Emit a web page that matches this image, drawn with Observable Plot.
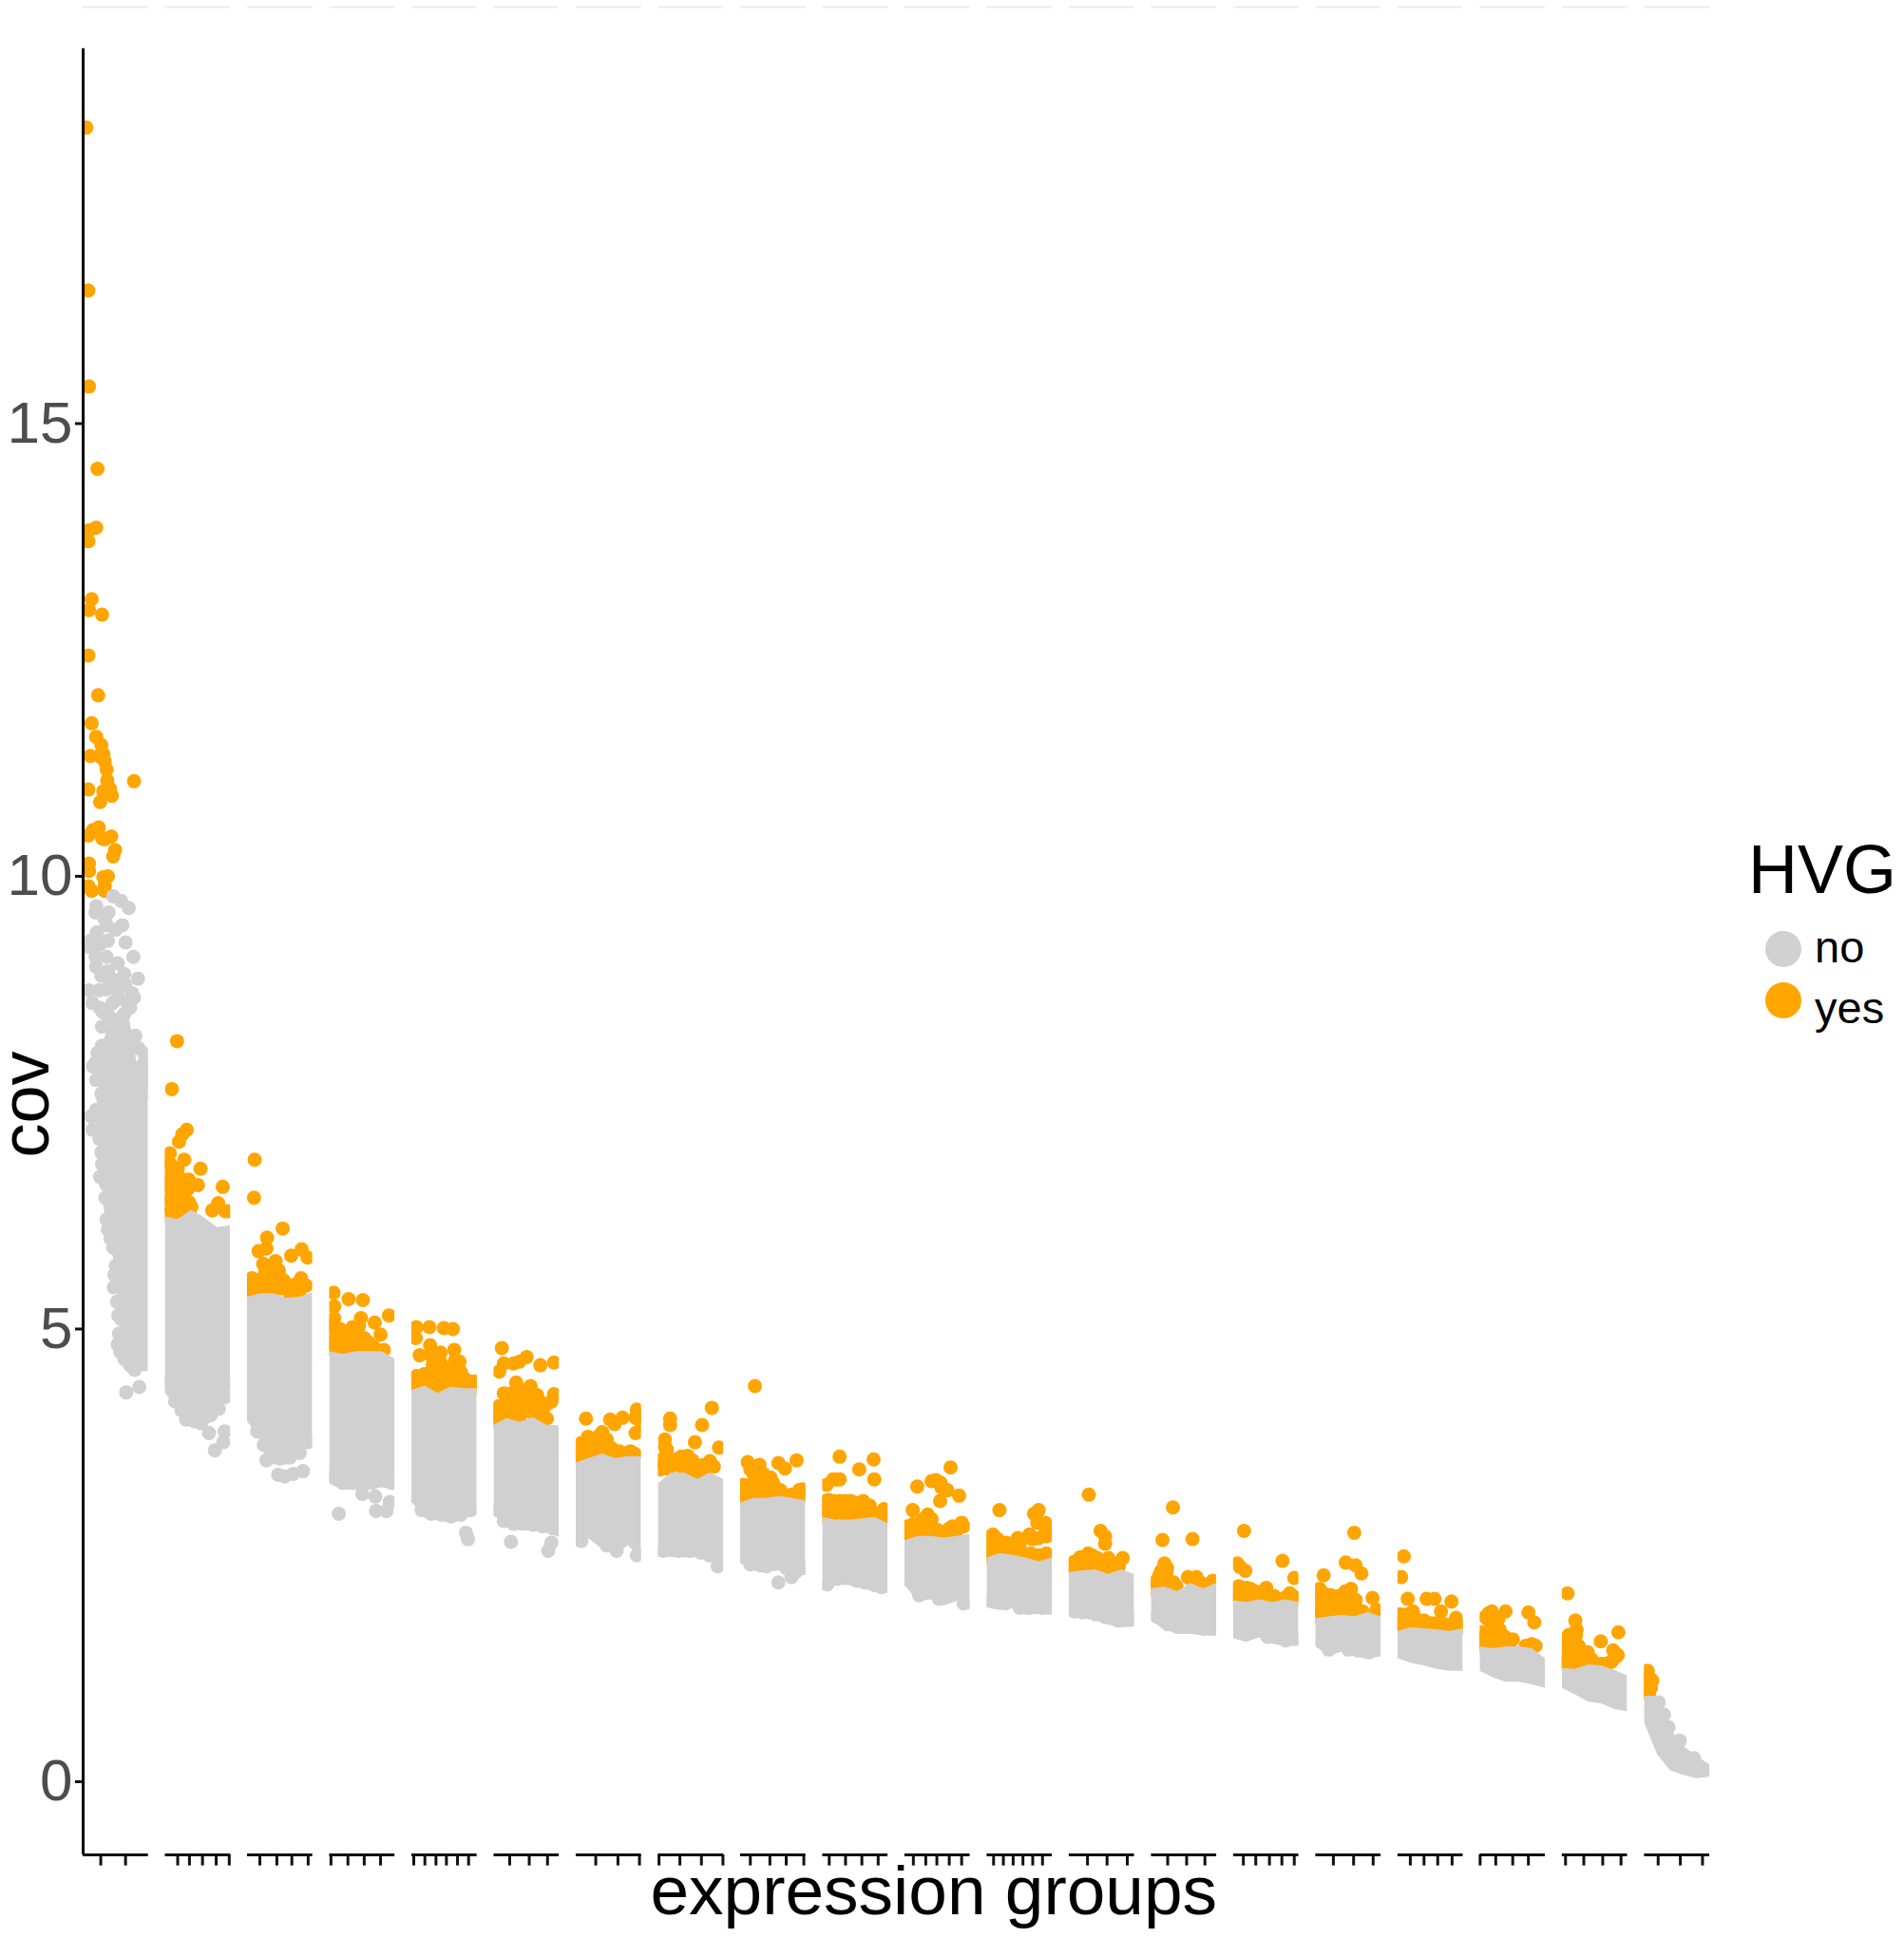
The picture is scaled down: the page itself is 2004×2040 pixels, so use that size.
<!DOCTYPE html>
<html>
<head>
<meta charset="utf-8">
<script src="https://cdn.jsdelivr.net/npm/d3@7"></script>
<script src="https://cdn.jsdelivr.net/npm/@observablehq/plot@0.6"></script>
<style>
html,body{margin:0;padding:0;background:#fff}
#chart{position:relative;width:2004px;height:2040px;overflow:hidden}
#legend{position:absolute;left:0;top:0}
</style>
</head>
<body>
<div id="chart"></div>
<script>
// x is a position 0-100 inside each expression group's panel, v is cov.
const groups = d3.range(20);
const yTicks = [0, 5, 10, 15];
const xTicks = [
  [27,65],[19,37,57,78,98],[19,45,68,93],[2,28,53,78],[3,20,37,53,70,87],[24,54,82],[30,64,97],
  [1,33,66,99],[15,45,70,97],[10,35,60,85],[13,32,49,68,87],[10,25,40,55,70,85],[28,58,89],
  [25,54,82],[15,34,55,74,93],[27,58,88],[19,40,61,83],[0,24,50,74],[5,33,62,90],[21,55,89]
];

// HVG = yes: separately visible points
const yes00 = [[5,18.27],[8,16.47],[9,15.41],[22,14.5],[20,13.85],[9,13.82],[8,13.7],[13,13.06],[9,12.94],[29,12.89],[8,12.44],[23,12],[13,11.69],[20,11.54],[28,11.45],[11,11.33],[24,11.33],[31,11.35],[33,11.27],[36,11.18],[37,11.06],[78,11.05],[8,10.96],[31,10.94],[41,10.97],[44,10.89],[26,10.82],[24,10.54],[15,10.51],[8,10.45],[29,10.42],[33,10.41],[43,10.44],[49,10.29],[46,10.22],[9,10.14],[9,10.06],[38,10],[31,9.99],[33,9.9],[8,9.89],[13,9.84],[33,9.84]];
const yes01 = [[18,8.18],[10,7.65],[33,7.2],[26,7.15],[21,7.07],[7,6.94],[8,6.82],[29,6.87],[54,6.77],[19,6.77],[9,6.61],[24,6.66],[36,6.65],[50,6.59],[88,6.57],[14,6.52],[29,6.49],[9,6.42],[24,6.42],[36,6.4],[81,6.39],[72,6.31],[92,6.3],[9,6.31],[21,6.3],[31,6.33],[98,6.3],[19,6.26]];
const yes02 = [[11,6.87],[10,6.45],[54,6.11],[30,6.01],[17,5.86],[29,5.89],[67,5.81],[83,5.88],[92,5.79],[43,5.75],[24,5.72],[33,5.69],[43,5.61],[7,5.56],[19,5.54],[82,5.56],[55,5.54],[43,5.51],[9,5.44],[29,5.47],[72,5.49],[84,5.51],[65,5.39],[9,5.39],[21,5.42],[80,5.42]];
const yes03 = [[6,5.4],[29,5.33],[51,5.32],[7,5.25],[91,5.15],[48,5.12],[7,5.12],[69,5.07],[10,5.02],[78,4.94],[29,4.97],[39,4.97],[53,4.9],[10,4.9],[24,4.9],[36,4.85],[12,4.79],[22,4.77],[61,4.79],[83,4.77],[46,4.81]];
const yes04 = [[7,5.02],[27,5.02],[49,5.01],[63,5],[6,4.9],[28,4.82],[65,4.77],[12,4.71],[44,4.74],[29,4.71],[73,4.64],[44,4.63],[32,4.6],[63,4.57],[7,4.48],[75,4.53],[19,4.5],[36,4.5],[53,4.48],[80,4.46],[92,4.42],[9,4.41],[36,4.34],[22,4.41],[58,4.41],[70,4.41]];
const yes05 = [[12,4.79],[50,4.69],[39,4.64],[30,4.62],[15,4.62],[8,4.53],[71,4.6],[92,4.63],[34,4.41],[56,4.37],[15,4.29],[92,4.28],[27,4.29],[66,4.27],[42,4.22],[81,4.17],[54,4.22],[8,4.15],[22,4.15],[34,4.13],[66,4.13],[8,4.01],[39,4.01],[81,4.01],[20,4.04],[56,4.09]];
const yes06 = [[15,4.01],[52,4],[71,4.02],[93,4.11],[91,4.02],[59,3.95],[91,3.85],[40,3.86],[18,3.81],[8,3.74],[28,3.76],[45,3.76],[11,3.64],[25,3.64],[47,3.67],[6,3.59],[66,3.65],[83,3.65],[20,3.6],[61,3.6],[42,3.62]];
const yes07 = [[82,4.13],[18,4.01],[18,3.94],[67,3.94],[10,3.78],[56,3.75],[93,3.69],[13,3.67],[45,3.6],[35,3.59],[11,3.55],[79,3.54],[8,3.5],[33,3.5],[47,3.5],[64,3.48],[74,3.48],[25,3.5],[45,3.36],[64,3.36]];
const yes08 = [[22,4.37],[11,3.53],[29,3.5],[58,3.52],[86,3.55],[68,3.46],[17,3.45],[22,3.36],[46,3.36],[10,3.27],[36,3.24],[51,3.24],[61,3.22],[90,3.22],[10,3.15],[24,3.18],[78,3.17],[12,3.1],[39,3.18]];
const yes09 = [[26,3.59],[78,3.56],[56,3.45],[79,3.34],[26,3.34],[16,3.34],[6,3.28],[9,3.11],[26,3.1],[43,3.1],[62,3.1],[9,3.01],[35,3.01],[69,3.01],[94,3.01],[40,2.92],[11,2.9],[94,2.92],[65,2.94],[26,2.99],[55,2.99]];
const yes10 = [[70,3.47],[19,3.26],[41,3.32],[55,3.3],[65,3.22],[83,3.16],[54,3.1],[12,3],[33,2.9],[87,2.86],[67,2.79],[9,2.82],[24,2.85],[21,2.75],[46,2.76],[80,2.78],[7,2.73],[36,2.8]];
const yes11 = [[19,3],[79,3],[72,2.96],[89,2.86],[77,2.86],[9,2.73],[91,2.71],[79,2.69],[70,2.68],[47,2.69],[16,2.68],[30,2.64],[6,2.61],[43,2.61],[4,2.52],[18,2.57],[67,2.52],[91,2.52],[74,2.48],[47,2.54]];
const yes12 = [[30,3.17],[48,2.77],[55,2.71],[55,2.63],[82,2.47],[29,2.52],[17,2.48],[8,2.43],[7,2.36],[26,2.43],[43,2.47],[60,2.47],[29,2.35],[56,2.32],[72,2.41],[41,2.41]];
const yes13 = [[33,3.03],[17,2.67],[63,2.68],[20,2.41],[15,2.33],[8,2.2],[23,2.31],[25,2.22],[56,2.26],[69,2.26],[64,2.2],[38,2.16],[94,2.22],[15,2.2]];
const yes14 = [[16,2.77],[75,2.44],[6,2.41],[18,2.33],[93,2.25],[8,2.16],[50,2.14],[20,2.14],[33,2.1],[91,2.05],[6,2.05],[54,2.05],[18,2.07],[71,2.01]];
const yes15 = [[12,2.28],[46,2.42],[61,2.39],[70,2.3],[59,2.75],[87,2.03],[6,2.13],[23,2.06],[8,2.03],[8,1.92],[54,2.13],[45,2.1],[61,2.01],[32,1.99],[20,1.98],[47,1.99],[66,1.89],[93,1.9],[8,1.87],[42,1.91]];
const yes16 = [[9,2.49],[5,2.26],[15,2.02],[44,2.02],[56,2.02],[82,1.99],[66,1.88],[23,1.88],[89,1.81],[6,1.79],[21,1.79],[33,1.75],[50,1.75],[65,1.73],[82,1.73],[89,1.68],[6,1.71]];
const yes17 = [[39,1.88],[74,1.87],[83,1.76],[13,1.86],[11,1.8],[26,1.78],[9,1.63],[26,1.63],[50,1.57],[9,1.54],[26,1.49],[35,1.56],[79,1.52],[70,1.5],[16,1.54]];
const yes18 = [[8,2.08],[20,1.78],[21,1.62],[59,1.55],[86,1.65],[8,1.54],[85,1.4],[17,1.49],[39,1.43],[27,1.42],[5,1.33],[30,1.35],[71,1.31],[59,1.3],[37,1.37],[76,1.33]];
const yes19 = [[5,1.225],[8,1.14],[8,1.03],[10,1.04],[5,0.98]];
const yesAll = [yes00,yes01,yes02,yes03,yes04,yes05,yes06,yes07,yes08,yes09,yes10,yes11,yes12,yes13,yes14,yes15,yes16,yes17,yes18,yes19];

// HVG = yes: points inside the solid orange clusters
const yesDense = [
  [],
  [[3,6.85],[3,6.72],[3,6.6],[15,6.62],[25,6.55],[35,6.55],[3,6.5],[18,6.45],[30,6.42],[40,6.35],[3,6.38],[14,6.35],[26,6.33],[37,6.27],[3,6.25],[13,6.22]],
  [[3,5.5],[3,5.42],[15,5.5],[15,5.42],[27,5.55],[36,5.5],[38,5.42],[50,5.45],[62,5.47],[75,5.42],[90,5.48],[36,5.7],[48,5.65],[27,5.62]],
  [[4,5.05],[4,4.97],[4,4.85],[4,4.78],[16,5],[16,4.88],[16,4.8],[30,4.88],[30,4.78],[40,4.9],[40,4.8],[50,4.85],[52,4.78],[60,4.85],[68,4.8],[72,4.75],[35,5.02],[45,5.03]],
  [[3,4.45],[3,4.37],[14,4.45],[14,4.37],[28,4.45],[28,4.37],[45,4.42],[45,4.35],[62,4.47],[70,4.48],[78,4.4],[88,4.4],[98,4.42],[98,4.35],[85,4.4],[55,4.55],[38,4.6],[42,4.68],[35,4.66],[70,4.55],[66,4.65],[30,4.52]],
  [[3,4.12],[3,4.03],[3,3.98],[14,4.1],[14,4],[26,4.08],[30,4.2],[26,3.98],[40,4.12],[48,4.1],[48,4.2],[62,4.2],[70,4.2],[76,4.13],[62,4.05],[74,4.05],[45,4.32],[34,4.33],[88,4.2]],
  [[3,3.7],[3,3.62],[3,3.55],[14,3.74],[14,3.62],[14,3.55],[25,3.72],[33,3.7],[35,3.62],[52,3.62],[55,3.68],[72,3.62],[90,3.62],[47,3.78],[35,3.82],[100,3.95],[97,4.05]],
  [[3,3.55],[3,3.45],[14,3.46],[20,3.5],[28,3.56],[38,3.45],[52,3.55],[55,3.45],[70,3.5],[85,3.48],[12,3.62],[10,3.7],[40,3.55],[58,3.5],[45,3.42]],
  [[15,3.45],[20,3.4],[30,3.42],[35,3.4],[45,3.3],[30,3.3],[3,3.2],[3,3.28],[3,3.12],[12,3.2],[20,3.15],[25,3.28],[50,3.3],[42,3.18],[60,3.17],[70,3.13],[85,3.14],[95,3.15],[95,3.23],[28,3.13]],
  [[4,3.1],[4,3],[4,2.92],[16,3.1],[16,3],[16,2.93],[26,3.05],[34,3.1],[34,2.95],[45,3],[50,3.08],[54,2.92],[62,3],[72,3.05],[78,2.97],[85,2.95],[97,3],[97,2.9],[87,2.92],[20,3.34]],
  [[4,2.82],[4,2.75],[14,2.85],[14,2.75],[28,2.85],[30,2.77],[38,2.88],[38,2.75],[50,2.78],[52,2.72],[73,2.82],[90,2.82],[28,2.9],[35,2.95],[41,2.9],[56,3.25],[48,3.33],[75,2.75],[60,2.74]],
  [[4,2.7],[3,2.6],[15,2.62],[22,2.64],[30,2.58],[35,2.6],[40,2.62],[50,2.62],[45,2.58],[54,2.52],[60,2.5],[78,2.5],[85,2.5],[98,2.5],[3,2.47],[12,2.52],[24,2.55],[35,2.54],[62,2.7],[90,2.78],[65,2.73]],
  [[3,2.4],[3,2.33],[14,2.36],[20,2.4],[26,2.33],[35,2.42],[38,2.36],[50,2.42],[46,2.37],[60,2.37],[68,2.38],[76,2.38],[12,2.44],[35,2.5]],
  [[3,2.2],[3,2.13],[12,2.28],[12,2.16],[20,2.25],[27,2.15],[24,2.36],[30,2.2],[20,2.15],[34,2.2],[98,2.2],[75,2.2],[80,2.18]],
  [[3,2.1],[12,2.12],[26,2.13],[3,2],[20,2.04],[30,2.03],[42,2.05],[44,2.1],[62,2.05],[50,2.08],[78,2.03],[98,2.02],[86,2.08],[10,2.37]],
  [[3,2.1],[3,2],[3,1.9],[3,1.82],[13,2],[13,1.9],[25,1.95],[25,1.87],[35,2.05],[32,1.9],[40,2.02],[52,2.05],[55,1.98],[55,1.9],[62,1.92],[45,1.87],[95,1.85],[72,1.88],[15,2.07]],
  [[3,1.85],[3,1.72],[12,1.75],[15,1.85],[25,1.82],[28,1.74],[40,1.78],[58,1.75],[72,1.74],[75,1.7],[90,1.75],[95,1.7],[45,1.72],[60,1.72]],
  [[3,1.65],[3,1.55],[3,1.5],[15,1.66],[20,1.7],[25,1.55],[20,1.5],[30,1.68],[30,1.5],[38,1.6],[45,1.53],[8,1.82],[18,1.88],[28,1.8],[75,1.49],[85,1.5]],
  [[3,1.42],[3,1.3],[14,1.55],[14,1.38],[14,1.29],[25,1.5],[25,1.3],[33,1.42],[35,1.3],[45,1.35],[22,1.68],[20,1.42],[65,1.3],[82,1.38],[78,1.45],[10,1.62],[6,1.28]],
  [[3,1.2],[3,1.1],[3,1],[7,0.97],[12,1.12]]
];

// HVG = no: the dense body of each group, its upper and lower edge read across the panel
const bodyX = [0, 20, 40, 60, 80, 100];
const bodyTop = [
  null,
  [6.24,6.21,6.31,6.23,6.12,6.14],[5.35,5.39,5.39,5.34,5.35,5.4],[4.75,4.72,4.75,4.75,4.75,4.67],
  [4.32,4.37,4.29,4.36,4.34,4.34],[3.94,4.01,3.97,4.02,3.94,3.93],[3.52,3.57,3.62,3.57,3.59,3.59],
  [3.29,3.41,3.41,3.34,3.41,3.34],[3.08,3.13,3.13,3.15,3.13,3.1],[2.92,2.89,2.89,2.9,2.92,2.85],
  [2.66,2.71,2.71,2.69,2.71,2.73],[2.47,2.52,2.5,2.47,2.43,2.47],[2.31,2.33,2.34,2.29,2.34,2.29],
  [2.13,2.15,2.1,2.19,2.13,2.19],[2,1.98,2.01,1.98,2.01,1.98],[1.8,1.82,1.84,1.82,1.87,1.82],
  [1.66,1.7,1.69,1.68,1.66,1.69],[1.49,1.47,1.49,1.49,1.47,1.36],[1.25,1.24,1.29,1.28,1.23,1.17],
  [0.945,0.945,0.58,0.39,0.28,0.19]
];
const bodyBottom = [
  null,
  [4.29,4.11,3.94,3.9,4.04,4.32],[3.98,3.77,3.5,3.5,3.57,3.77],[3.29,3.22,3.22,3.22,3.25,3.22],
  [3.09,2.91,2.88,2.86,2.88,2.99],[2.95,2.81,2.77,2.77,2.75,2.7],[2.59,2.68,2.57,2.5,2.61,2.45],
  [2.48,2.48,2.47,2.48,2.45,2.38],[2.41,2.33,2.31,2.33,2.22,2.29],[2.1,2.17,2.17,2.13,2.1,2.08],
  [2.17,1.99,2.01,1.94,1.99,1.89],[1.92,1.89,1.91,1.84,1.85,1.84],[1.82,1.8,1.78,1.73,1.7,1.71],
  [1.77,1.68,1.63,1.63,1.61,1.61],[1.58,1.54,1.59,1.52,1.49,1.5],[1.49,1.39,1.43,1.38,1.35,1.38],
  [1.36,1.31,1.28,1.24,1.22,1.22],[1.22,1.15,1.1,1.1,1.07,1.03],[1.03,0.96,0.88,0.86,0.8,0.77],
  [0.65,0.3,0.12,0.07,0.035,0.05]
];
const firstBodyX = [31,38,50,58,70,82,92,100];
const firstBodyTop = [8.17,8.31,8.48,8.52,8.48,7.96,7.89,7.78];
const firstBodyBottom = [6.39,6.03,5.69,4.81,4.57,4.53,4.53,4.53];

// HVG = no: individually visible points
const no00 = [[46,9.78],[58,9.73],[70,9.65],[20,9.67],[19,9.6],[39,9.6],[33,9.53],[60,9.46],[36,9.46],[50,9.41],[21,9.38],[65,9.27],[12,9.29],[38,9.29],[26,9.25],[9,9.22],[19,9.11],[77,9.11],[36,9.11],[53,9.04],[38,8.95],[84,8.87],[63,8.92],[24,8.74],[9,8.74],[14,8.6],[75,8.71],[78,8.66],[53,8.73],[48,8.62],[36,8.52],[63,8.48],[29,8.34],[80,8.24],[94,8.04],[29,8.13],[19,7.94],[26,7.83],[89,7.83],[36,7.68],[89,7.57],[31,7.54],[33,7.43],[21,7.35],[26,7.21],[41,7.08],[33,7.01],[29,6.82],[26,6.68],[36,6.21],[46,5.9],[50,5.47],[47,5.46],[58,5.11],[53,4.83],[63,4.67],[79,4.55],[66,4.3],[86,4.36],
  [20,9],[28,8.9],[42,8.85],[50,8.85],[35,8.75],[65,8.8],[45,8.6],[25,8.55],[40,8.45],[30,8.5],[72,8.55],[66,8.62],[22,8.05],[15,7.9],[30,8],[20,7.75],[28,7.6],[38,7.9],[25,7.1],[33,7.25],[20,7.42],[28,6.95],[35,6.6],[36,6.75],[34,6.45],[38,6.1],[42,6],[50,5.7],[48,5.6],[52,5.3],[54,5.15],[60,4.95],[55,4.95],[70,4.7],[72,4.6],[57,4.75],[85,8.1],[100,7.85],[94,7.95],[100,7.7],[12,7.35],[14,7.2]];
const no01 = [[67,3.85],[91,3.87],[89,3.75],[76,3.66],[4,4.4],[15,4.2],[25,4.1],[32,4],[45,3.98],[55,3.96],[70,4.05],[82,4.12],[92,4.25],[100,4.4]];
const no02 = [[29,3.55],[57,3.37],[70,3.4],[85,3.43],[47,3.39],[5,4.05],[15,3.87],[25,3.72],[35,3.6],[50,3.57],[65,3.58],[80,3.63],[92,3.75]];
const no03 = [[14,2.96],[70,3.15],[71,2.99],[92,3.09],[87,2.99],[50,3.18],[5,3.37],[20,3.3],[35,3.3],[50,3.3],[65,3.3],[80,3.33],[95,3.3]];
const no04 = [[86,2.68],[83,2.75],[5,3.15],[15,3],[30,2.96],[45,2.95],[60,2.93],[75,2.95],[90,3]];
const no05 = [[26,2.65],[88,2.64],[83,2.55],[5,3],[15,2.88],[30,2.85],[45,2.85],[60,2.84],[75,2.82],[90,2.8]];
const no06 = [[8,2.66],[47,2.61],[62,2.55],[93,2.5]];
const no07 = [[91,2.38],[8,2.55],[20,2.56],[30,2.55],[50,2.55],[65,2.53],[78,2.5]];
const no08 = [[58,2.2],[78,2.26],[5,2.48],[15,2.4],[30,2.39],[40,2.38],[55,2.42],[70,2.36],[85,2.32],[97,2.36]];
const no09 = [[7,2.18],[22,2.24],[37,2.25],[52,2.22],[65,2.2],[80,2.17],[90,2.15]];
const no10 = [[5,2.23],[22,2.06],[35,2.11],[52,2.02],[68,2.06],[90,1.97]];
const no11 = [[6,2],[28,1.97],[50,1.92],[65,1.92],[85,1.92]];
const no12 = [[8,1.88],[20,1.87],[40,1.85],[55,1.82],[75,1.78],[95,1.79]];
const no13 = [[8,1.83],[25,1.74],[40,1.71],[60,1.71],[80,1.69],[95,1.69]];
const no14 = [[10,1.65],[30,1.68],[52,1.6],[80,1.56],[95,1.58]];
const no15 = [[10,1.55],[20,1.46],[50,1.46],[65,1.45],[82,1.43]];
const no19 = [[22,0.875],[30,0.74],[37,0.6],[54,0.455],[76,0.26]];
const noAll = [no00,no01,no02,no03,no04,no05,no06,no07,no08,no09,no10,no11,no12,no13,no14,no15,[],[],[],no19];

const labelCov = "cov";
const labelGroups = "expression groups";
const legendTitle = "HVG";
const legendLabels = ["no", "yes"];
const colourNo = "#d0d0d0";
const colourYes = "#ffa500";

// tables for the marks
const yesRows = yesAll.flatMap((a, g) => a.concat(yesDense[g]).map(([x, v]) => ({g, x, v})));
const noRows = noAll.flatMap((a, g) => a.map(([x, v]) => ({g, x, v})));
const bodyRows = groups.flatMap(g => g === 0
  ? firstBodyX.map((x, i) => ({g, x, top: firstBodyTop[i], bottom: firstBodyBottom[i]}))
  : bodyX.map((x, i) => ({g, x, top: bodyTop[g][i], bottom: bodyBottom[g][i]})));
const tickRows = xTicks.flatMap((a, g) => a.map(x => ({g, x})));

const yMin = -0.808, yMax = 19.6, yLineTop = 19.14, tickEnd = -0.93;
const font = "Liberation Sans, Arial, sans-serif";

const chart = Plot.plot({
  width: 2004, height: 2040,
  marginLeft: 87, marginRight: 205, marginTop: 7, marginBottom: 88,
  style: {background: "#fff", overflow: "visible", fontFamily: font},
  fx: {domain: groups, axis: null, paddingInner: 0.206, paddingOuter: 0, align: 0, round: false, label: null},
  x: {domain: [0, 100], axis: null},
  y: {domain: [yMin, yMax], axis: null},
  marks: [
    Plot.dot(yesRows, {x: "x", y: "v", fx: "g", r: 7.5, fill: colourYes, clip: true}),
    Plot.areaY(bodyRows, {x: "x", y1: "bottom", y2: "top", fx: "g", fill: colourNo, clip: true}),
    Plot.dot(noRows, {x: "x", y: "v", fx: "g", r: 7.5, fill: colourNo, clip: true}),
    Plot.ruleY([yMin], {stroke: "#111", strokeWidth: 3}),
    Plot.ruleY([yMax], {stroke: "#ececec", strokeWidth: 2}),
    Plot.ruleX(tickRows, {x: "x", fx: "g", y1: yMin, y2: tickEnd, stroke: "#111", strokeWidth: 3}),
    Plot.ruleX([0], {fx: () => 0, y1: yMin, y2: yLineTop, stroke: "#000", strokeWidth: 3}),
    Plot.axisY({anchor: "left", ticks: yTicks, tickSize: 8, tickPadding: 3, fontSize: 62, color: "#4d4d4d", stroke: "#111", strokeWidth: 3, label: null, fill: "#4d4d4d"}),
    Plot.text([labelCov], {fx: () => 0, x: () => 0, y: () => 7.48, rotate: -90, dx: -37, fontSize: 72, fill: "#000", lineAnchor: "bottom", text: d => d}),
    Plot.text([labelGroups], {fx: () => 10, x: () => 50, y: () => yMin, dy: 62, dx: -4, fontSize: 73, fill: "#000", lineAnchor: "bottom", text: d => d})
  ]
});
document.getElementById("chart").append(chart);

// legend
const lg = d3.create("svg").attr("id", "legend").attr("width", 2004).attr("height", 2040)
  .style("font-family", font);
lg.append("text").attr("x", 1840).attr("y", 940).attr("font-size", 72).attr("fill", "#000").text(legendTitle);
legendLabels.forEach((t, i) => {
  const c = [999, 1053][i], b = [1013, 1077][i];
  lg.append("circle").attr("cx", 1877).attr("cy", c).attr("r", 19).attr("fill", i ? colourYes : colourNo);
  lg.append("text").attr("x", 1910).attr("y", b).attr("font-size", 47).attr("fill", "#000").text(t);
});
document.getElementById("chart").append(lg.node());
</script>
</body>
</html>
